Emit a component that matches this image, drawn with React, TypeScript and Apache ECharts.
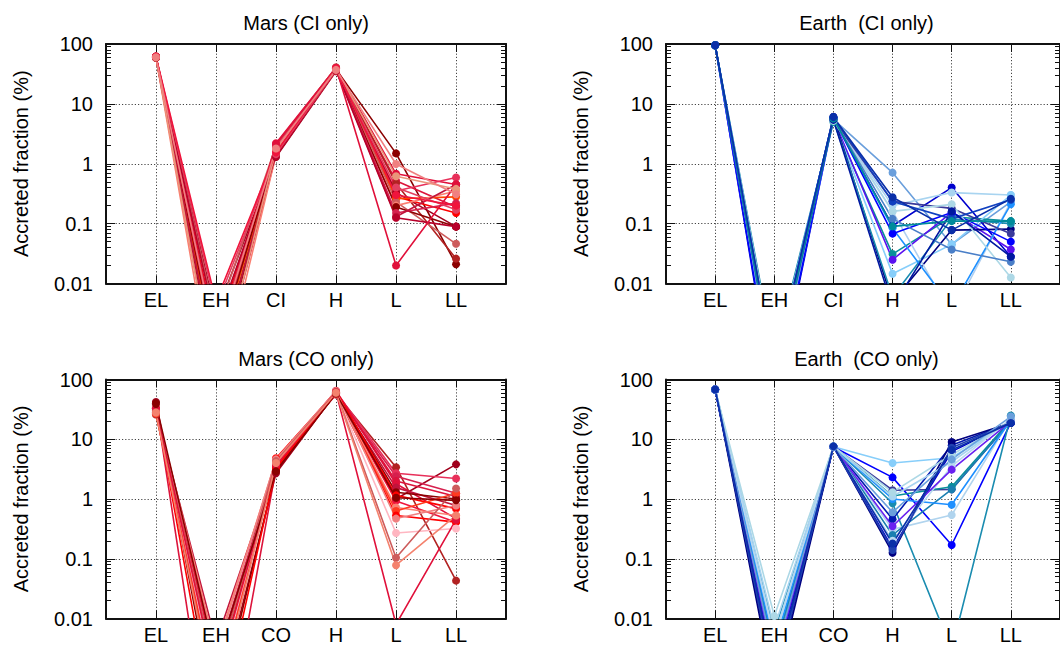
import React, { useEffect, useRef } from 'react';
import * as echarts from 'echarts';

// ---------- data ----------
const categoriesCI = ['EL', 'EH', 'CI', 'H', 'L', 'LL'];
const categoriesCO = ['EL', 'EH', 'CO', 'H', 'L', 'LL'];
const categoryPositions = [1, 2, 3, 4, 5, 6];
const yTickLabels = ['0.01', '0.1', '1', '10', '100'];
const yMajorTicks = [0.01, 0.1, 1, 10, 100];
const yMinorTicks = [
  0.02, 0.03, 0.04, 0.05, 0.06, 0.07, 0.08, 0.09,
  0.2, 0.3, 0.4, 0.5, 0.6, 0.7, 0.8, 0.9,
  2, 3, 4, 5, 6, 7, 8, 9,
  20, 30, 40, 50, 60, 70, 80, 90,
];
const panelTitles = ['Mars (CI only)', 'Earth  (CI only)', 'Mars (CO only)', 'Earth  (CO only)'];
const yAxisTitle = 'Accreted fraction (%)';

// each run: [EL, EH, CI/CO, H, L, LL]  (accreted fraction, %)
const marsCIRuns = [
  [62, 3e-4, 1.5, 38, 1.49, 0.021],
  [61, 5e-4, 2.2, 40, 0.68, 0.45],
  [60, 2e-4, 1.4, 36, 0.52, 0.19],
  [62, 4e-4, 1.6, 39, 0.47, 0.026],
  [59, 8e-4, 1.9, 38, 0.35, 0.59],
  [61, 3e-3, 1.3, 35, 0.33, 0.089],
  [60, 1.5e-3, 1.7, 37, 0.28, 0.15],
  [60, 6e-4, 1.5, 38, 0.26, 0.28],
  [61, 2.5e-3, 2.0, 41, 0.23, 0.046],
  [60, 1e-4, 1.4, 36, 0.2, 0.35],
  [59, 7e-4, 1.6, 37, 0.19, 0.089],
  [62, 1.2e-3, 1.8, 39, 0.15, 0.22],
  [60, 3.5e-4, 1.5, 38, 0.13, 0.45],
  [61, 2e-3, 1.35, 36, 0.125, 0.089],
  [60, 9e-4, 2.1, 40, 0.02, 0.45],
  [61, 4e-3, 1.45, 37, 0.4, 0.17],
  [60, 1.8e-4, 1.7, 38, 0.62, 0.38],
  [62, 5e-3, 1.55, 39, 0.3, 0.2],
  [60, 1e-3, 1.8, 37, 0.99, 0.31],
];
const marsCIColors = [
  '#8b0000', '#e0103a', '#dc143c', '#b22222', '#e8305a', '#a0001c', '#ff0000',
  '#ff4500', '#cd5c5c', '#fa8072', '#8b0000', '#d6204e', '#c0143c', '#b8002a', '#e0103a',
  '#e34060', '#e9967a', '#f0143c', '#f08080',
];

const earthCIRuns = [
  [95, 2e-4, 5.5, 0.71, 0.045, 0.23],
  [96, 1e-4, 5.8, 0.092, 0.4, 0.028],
  [95, 3e-4, 5.2, 0.2, 0.33, 0.3],
  [94, 5e-4, 5.0, 0.031, 0.13, 0.11],
  [95, 2.5e-4, 5.6, 0.025, 0.154, 0.037],
  [95, 1.5e-4, 5.3, 0.0145, 0.045, 0.3],
  [96, 3.5e-4, 6.1, 0.005, 0.078, 0.081],
  [95, 6e-4, 5.4, 0.006, 0.12, 0.1],
  [95, 2e-4, 5.7, 0.16, 0.003, 0.23],
  [95, 4.5e-4, 5.9, 0.084, 0.004, 0.21],
  [95, 3e-4, 5.5, 0.235, 0.18, 0.068],
  [95, 1.2e-4, 5.8, 0.068, 0.154, 0.05],
  [95, 5e-4, 5.2, 0.16, 0.21, 0.0126],
  [95, 2.2e-4, 5.6, 0.12, 0.037, 0.023],
  [95, 4e-4, 6.0, 0.235, 0.12, 0.25],
  [95, 3e-4, 5.4, 0.004, 0.16, 0.028],
  [95, 2.8e-4, 5.7, 0.09, 0.11, 0.11],
  [95, 4e-4, 6.0, 0.275, 0.078, 0.26],
];
const earthCIColors = [
  '#6a9fdc', '#0000cd', '#a8d4f0', '#0a8f9a', '#5a10f0', '#87cefa', '#000080',
  '#1a8cb0', '#b0cff0', '#1e90ff', '#3a3a9a', '#0000ff', '#add8e6', '#4a7fc8', '#1040c0',
  '#0018a0', '#008b9b', '#0a2fa8',
];

const marsCORuns = [
  [42, 3e-4, 2.7, 60, 1.0, 3.8],
  [26, 1e-3, 4.0, 58, 3.4, 0.043],
  [35, 5e-4, 4.5, 62, 2.7, 2.2],
  [30, 2e-3, 3.8, 57, 2.4, 1.25],
  [38, 1e-5, 3.2, 60, 2.0, 1.1],
  [32, 6e-4, 4.2, 65, 1.8, 0.47],
  [28, 4e-3, 3.5, 56, 1.55, 0.78],
  [40, 2e-4, 3.0, 59, 1.3, 1.0],
  [33, 8e-4, 4.8, 63, 1.15, 0.69],
  [36, 1.5e-3, 3.6, 58, 0.93, 0.41],
  [31, 3e-3, 4.4, 61, 0.72, 0.53],
  [27, 5e-4, 3.9, 57, 0.63, 1.25],
  [34, 1e-4, 3.3, 60, 0.53, 0.41],
  [29, 2.5e-3, 4.6, 64, 0.47, 0.78],
  [37, 7e-4, 4.1, 59, 0.27, 0.32],
  [30, 1.2e-3, 4.3, 62, 0.104, 1.5],
  [33, 9e-4, 3.7, 61, 0.008, 0.45],
  [39, 2e-3, 2.9, 58, 1.05, 0.95],
  [28, 3.5e-4, 4.0, 60, 0.078, 0.53],
];
const marsCOColors = [
  '#a0001c', '#b22222', '#e8305a', '#d6204e', '#dc143c', '#e0103a', '#c0143c', '#8b0000',
  '#ff0000', '#f0143c', '#fa8072', '#ff3a20', '#ff0000', '#f08080', '#ffb6c1', '#cd5c5c',
  '#e0103a', '#8b0000', '#f4826e',
];

const earthCORuns = [
  [68, 4e-3, 7.5, 4.0, 4.9, 20],
  [68, 1e-3, 7.4, 2.3, 0.17, 19],
  [67, 2e-3, 7.5, 1.4, 1.45, 20],
  [68, 3e-3, 7.6, 1.12, 1.6, 21],
  [68, 6e-3, 7.5, 0.85, 0.003, 25],
  [69, 8e-4, 7.5, 0.46, 7.9, 19],
  [68, 5e-3, 7.4, 0.31, 0.54, 22],
  [68, 2.5e-3, 7.5, 0.25, 1.45, 20],
  [68, 6e-4, 7.5, 0.126, 9.0, 18.7],
  [68, 1.5e-3, 7.5, 0.15, 6.2, 19],
  [67, 3.5e-3, 7.4, 1.0, 0.8, 21],
  [68, 7e-3, 7.5, 1.1, 4.2, 21],
  [68, 4.5e-3, 7.5, 0.2, 3.55, 22],
  [68, 1.8e-3, 7.5, 0.35, 3.1, 20],
  [68, 1.1e-2, 7.6, 1.3, 5.5, 20],
  [68, 9e-4, 7.5, 0.14, 7.2, 19],
  [68, 2.2e-3, 7.4, 0.6, 4.6, 24],
  [68, 1.2e-3, 7.6, 0.18, 6.6, 18.7],
];
const earthCOColors = [
  '#87cefa', '#0000ff', '#3a3a9a', '#0a8f9a', '#1a8cb0', '#0018b0', '#b0d4ee', '#1a7fb0',
  '#000080', '#0000cd', '#1e90ff', '#a8d4f0', '#b8d8f0', '#6a20f0', '#add8e6',
  '#2040b0', '#6a9fdc', '#0a2fa8',
];

// ---------- layout ----------
const FONT = '"Liberation Sans", Arial, Helvetica, sans-serif';
const X_MIN = 0.168;
const X_MAX = 6.832;

const panels = [
  { title: panelTitles[0], cats: categoriesCI, runs: marsCIRuns, colors: marsCIColors, left: 106, top: 44, width: 400, height: 239.5, titleY: 23 },
  { title: panelTitles[1], cats: categoriesCI, runs: earthCIRuns, colors: earthCIColors, left: 666, top: 44, width: 401, height: 239.5, titleY: 23 },
  { title: panelTitles[2], cats: categoriesCO, runs: marsCORuns, colors: marsCOColors, left: 106, top: 379.5, width: 400, height: 239, titleY: 359 },
  { title: panelTitles[3], cats: categoriesCO, runs: earthCORuns, colors: earthCOColors, left: 666, top: 379.5, width: 401, height: 239, titleY: 359 },
];

const borderStyle = { color: '#111', width: 2 };
const tickStyle = { color: '#111', width: 1 };
const gridDot = { color: '#444', width: 1, type: [1.2, 2] as number[] };

function buildOption() {
  const grid: any[] = [];
  const xAxis: any[] = [];
  const yAxis: any[] = [];
  const series: any[] = [];
  const graphic: any[] = [];

  panels.forEach((p, i) => {
    grid.push({ left: p.left, top: p.top, width: p.width, height: p.height, show: false });

    const cats = p.cats;
    const xCommon = {
      type: 'value',
      gridIndex: i,
      min: X_MIN,
      max: X_MAX,
      axisLine: { show: true, onZero: false, lineStyle: borderStyle },
    };
    xAxis.push({
      ...xCommon,
      position: 'bottom',
      axisTick: { show: true, inside: true, length: 8, lineStyle: tickStyle, customValues: categoryPositions },
      axisLabel: {
        show: true,
        customValues: categoryPositions,
        margin: 6,
        color: '#000',
        fontSize: 20,
        fontFamily: FONT,
        formatter: (v: number) => {
          const k = Math.round(v);
          return Math.abs(v - k) < 1e-6 && k >= 1 && k <= cats.length ? cats[k - 1] : '';
        },
      },
      splitLine: { show: true, lineStyle: gridDot },
    });
    xAxis.push({
      ...xCommon,
      position: 'top',
      axisTick: { show: true, inside: true, length: 8, lineStyle: tickStyle, customValues: categoryPositions },
      axisLabel: { show: false },
      splitLine: { show: false },
    });

    const yCommon = {
      type: 'log',
      logBase: 10,
      gridIndex: i,
      min: 0.01,
      max: 100,
    };
    // left major
    yAxis.push({
      ...yCommon,
      position: 'left',
      axisLine: { show: true, lineStyle: borderStyle },
      axisTick: { show: true, inside: true, length: 9, lineStyle: tickStyle },
      axisLabel: {
        show: true,
        margin: 13,
        color: '#000',
        fontSize: 20,
        fontFamily: FONT,
        padding: [0, 0, 9, 0],
        formatter: (v: number) => {
          const e = Math.round(Math.log10(v));
          return yTickLabels[e + 2] ?? '';
        },
      },
      splitLine: { show: true, lineStyle: gridDot },
      name: yAxisTitle,
      nameLocation: 'middle',
      nameRotate: 90,
      nameGap: 75,
      nameTextStyle: { color: '#000', fontSize: 20, fontFamily: FONT },
    });
    // left minor
    yAxis.push({
      ...yCommon,
      position: 'left',
      axisLine: { show: false },
      axisTick: { show: true, inside: true, length: 5, lineStyle: tickStyle, customValues: yMinorTicks },
      axisLabel: { show: false },
      splitLine: { show: false },
    });
    // right major (mirror)
    yAxis.push({
      ...yCommon,
      position: 'right',
      axisLine: { show: true, lineStyle: borderStyle },
      axisTick: { show: true, inside: true, length: 9, lineStyle: tickStyle, customValues: yMajorTicks },
      axisLabel: { show: false },
      splitLine: { show: false },
    });
    // right minor (mirror)
    yAxis.push({
      ...yCommon,
      position: 'right',
      axisLine: { show: false },
      axisTick: { show: true, inside: true, length: 5, lineStyle: tickStyle, customValues: yMinorTicks },
      axisLabel: { show: false },
      splitLine: { show: false },
    });

    p.runs.forEach((run, r) => {
      const c = p.colors[r % p.colors.length];
      series.push({
        type: 'line',
        xAxisIndex: 2 * i,
        yAxisIndex: 4 * i,
        data: run.map((v, j) => [categoryPositions[j], v]),
        symbol: 'circle',
        symbolSize: 8,
        showSymbol: true,
        clip: true,
        silent: true,
        lineStyle: { color: c, width: 1.6 },
        itemStyle: { color: c },
        z: 3,
      });
    });

    graphic.push({
      type: 'text',
      x: p.left + p.width / 2,
      y: p.titleY,
      style: {
        text: p.title,
        fill: '#000',
        font: `20px ${FONT}`,
        textAlign: 'center',
        textVerticalAlign: 'middle',
        align: 'center',
        verticalAlign: 'middle',
      },
    });
  });

  return {
    animation: false,
    backgroundColor: '#fff',
    textStyle: { fontFamily: FONT },
    grid,
    xAxis,
    yAxis,
    series,
    graphic,
  };
}

export default function App() {
  const ref = useRef<HTMLDivElement>(null);
  useEffect(() => {
    if (!ref.current) return;
    const chart = echarts.init(ref.current, undefined, { renderer: 'svg' });
    chart.setOption(buildOption() as any);
    return () => chart.dispose();
  }, []);
  return (
    <div
      ref={ref}
      style={{ position: 'absolute', left: 0, top: 0, width: 1060, height: 646, overflow: 'hidden', background: '#fff' }}
    />
  );
}
